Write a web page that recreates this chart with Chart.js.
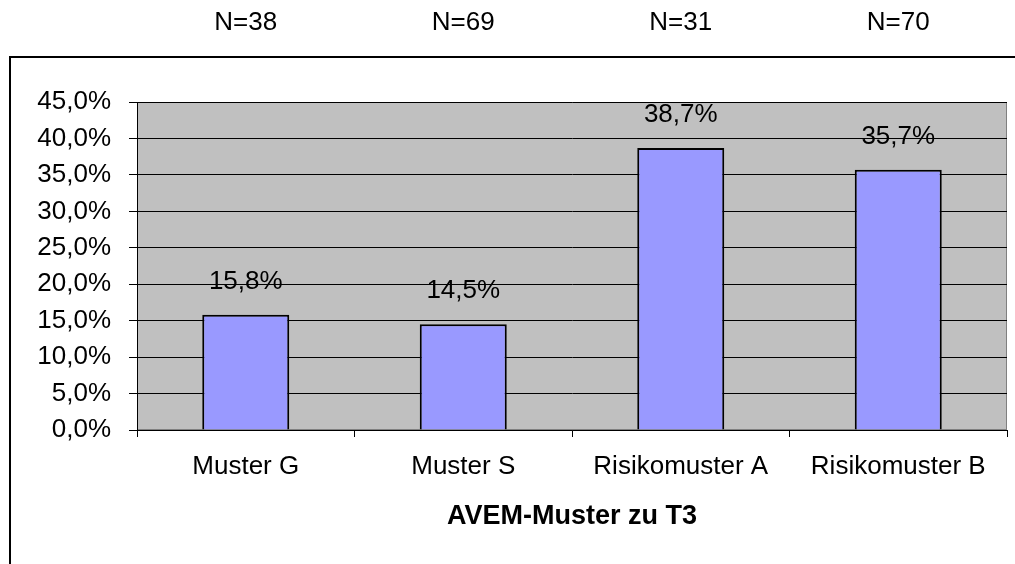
<!DOCTYPE html>
<html>
<head>
<meta charset="utf-8">
<script src="https://cdn.jsdelivr.net/npm/chart.js@4/dist/chart.umd.min.js"></script>
<style>
  html, body { margin: 0; padding: 0; background: #fff; }
  #wrap { width: 1015px; height: 564px; }
</style>
</head>
<body>
<div id="wrap"><canvas id="chart" width="1015" height="564"></canvas></div>
<script>
  // ===== Data =====
  const categories = ["Muster G", "Muster S", "Risikomuster A", "Risikomuster B"];
  const groupSizes = ["N=38", "N=69", "N=31", "N=70"];
  const shares = [15.8, 14.5, 38.7, 35.7];
  const axisMax = 45;
  const axisStep = 5;
  const axisTitle = "AVEM-Muster zu T3";

  const FONT = "'Liberation Sans', Arial, sans-serif";
  const fmtPct = v => v.toFixed(1).replace('.', ',') + '%';

  // ===== Plugins =====
  const plotBackground = {
    id: 'plotBackground',
    beforeDraw(chart) {
      const { ctx, chartArea: a } = chart;
      ctx.save();
      // outer frame (runs off the right and bottom edges)
      ctx.strokeStyle = '#000';
      ctx.lineWidth = 2;
      ctx.strokeRect(10, 57, 1100, 600);
      ctx.fillStyle = '#c0c0c0';
      ctx.fillRect(a.left, a.top, a.right - a.left, a.bottom - a.top);
      ctx.strokeStyle = '#808080';
      ctx.lineWidth = 1;
      ctx.strokeRect(a.left + 0.5, a.top + 0.5, a.right - a.left - 1, a.bottom - a.top - 1);
      ctx.restore();
    }
  };

  const labelsPlugin = {
    id: 'labelsPlugin',
    afterDraw(chart) {
      const { ctx } = chart;
      const xScale = chart.scales.x;
      const meta = chart.getDatasetMeta(0);
      ctx.save();
      ctx.fillStyle = '#000';
      ctx.font = `26px ${FONT}`;
      ctx.textAlign = 'center';
      ctx.textBaseline = 'middle';
      groupSizes.forEach((n, i) => {
        ctx.fillText(n, xScale.getPixelForValue(i), 23);
      });
      meta.data.forEach((bar, i) => {
        ctx.fillText(fmtPct(shares[i]), bar.x, bar.y - 33);
      });
      ctx.restore();
    }
  };

  // ===== Chart =====
  new Chart(document.getElementById('chart'), {
    type: 'bar',
    data: {
      labels: categories,
      datasets: [{
        data: shares,
        backgroundColor: '#9999ff',
        borderColor: '#000',
        borderWidth: 2,
        borderSkipped: 'bottom',
        categoryPercentage: 1,
        barPercentage: 0.4
      }]
    },
    options: {
      responsive: false,
      animation: false,
      devicePixelRatio: 1,
      layout: { padding: { top: 102, right: 8, left: 0, bottom: 0 } },
      plugins: {
        legend: { display: false },
        tooltip: { enabled: false }
      },
      scales: {
        x: {
          afterFit: s => { s.height = 134; },
          grid: { drawOnChartArea: false, drawTicks: true, tickLength: 7, color: '#000' },
          border: { display: true, color: '#000', width: 1 },
          ticks: { color: '#000', font: { family: FONT, size: 26 }, padding: 14, maxRotation: 0 },
          title: {
            display: true,
            text: axisTitle,
            color: '#000',
            font: { family: FONT, size: 27, weight: 'bold' },
            padding: { top: 0, bottom: 31 }
          }
        },
        y: {
          min: 0,
          max: axisMax,
          afterFit: s => { s.width = 137; },
          grid: { color: '#000', tickLength: 8, lineWidth: 1 },
          border: { display: true, color: '#000', width: 1 },
          ticks: {
            stepSize: axisStep,
            color: '#000',
            padding: 18,
            font: { family: FONT, size: 26 },
            callback: v => fmtPct(v)
          }
        }
      }
    },
    plugins: [plotBackground, labelsPlugin]
  });
</script>
</body>
</html>
